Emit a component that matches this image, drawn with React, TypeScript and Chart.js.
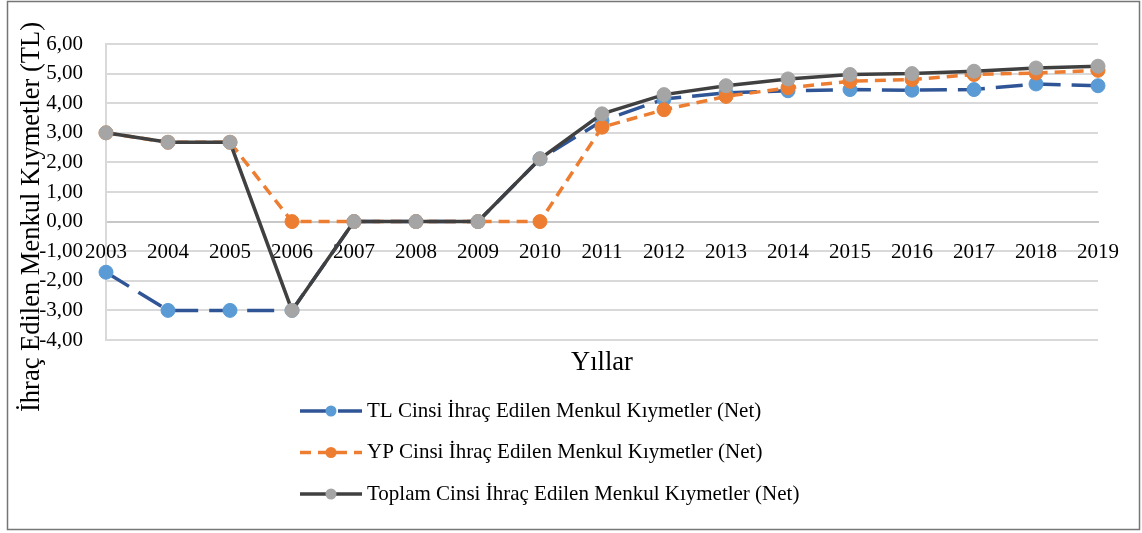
import React, { useEffect, useRef } from 'react';
import { Chart, registerables } from 'chart.js';

Chart.register(...registerables);

const years = ['2003', '2004', '2005', '2006', '2007', '2008', '2009', '2010', '2011', '2012', '2013', '2014', '2015', '2016', '2017', '2018', '2019'];
const tlValues = [-1.71, -3.0, -3.0, -3.0, 0, 0, 0, 2.12, 3.4, 4.14, 4.35, 4.42, 4.46, 4.44, 4.46, 4.65, 4.59];
const ypValues = [3.0, 2.68, 2.68, 0, 0, 0, 0, 0, 3.19, 3.78, 4.23, 4.52, 4.74, 4.8, 4.97, 5.02, 5.11];
const totalValues = [3.0, 2.68, 2.68, -3.0, 0, 0, 0, 2.12, 3.64, 4.29, 4.59, 4.82, 4.97, 5.0, 5.08, 5.19, 5.25];

const seriesLabels = [
  'TL Cinsi İhraç Edilen Menkul Kıymetler (Net)',
  'YP Cinsi İhraç Edilen Menkul Kıymetler (Net)',
  'Toplam Cinsi İhraç Edilen Menkul Kıymetler (Net)',
];
const yAxisTitle = 'İhraç Edilen Menkul Kıymetler (TL)';
const xAxisTitle = 'Yıllar';

const FONT = '"Liberation Serif", "Times New Roman", serif';

const decorPlugin = {
  id: 'decor',
  afterDraw(chart: any) {
    const ctx = chart.ctx as CanvasRenderingContext2D;
    const area = chart.chartArea;
    ctx.save();
    // outer border
    ctx.strokeStyle = '#767676';
    ctx.lineWidth = 1.5;
    ctx.strokeRect(7.5, 1.5, 1132, 528);

    // y axis title
    ctx.fillStyle = '#000';
    ctx.font = `26.5px ${FONT}`;
    ctx.save();
    ctx.translate(39, 217);
    ctx.rotate(-Math.PI / 2);
    ctx.textAlign = 'center';
    ctx.textBaseline = 'alphabetic';
    ctx.fillText(yAxisTitle, 0, 0);
    ctx.restore();

    // x axis title
    ctx.textAlign = 'center';
    ctx.textBaseline = 'alphabetic';
    ctx.fillText(xAxisTitle, (area.left + area.right) / 2, 370);

    // legend
    const x0 = 300, x1 = 362, cx = 331, tx = 367;
    const rowY = [411, 452.5, 494];
    ctx.font = `21px ${FONT}`;
    ctx.textAlign = 'left';
    ctx.textBaseline = 'middle';
    chart.data.datasets.forEach((ds: any, i: number) => {
      const y = rowY[i];
      ctx.save();
      ctx.strokeStyle = ds.borderColor;
      ctx.lineWidth = ds.borderWidth;
      ctx.setLineDash(ds.borderDash || []);
      ctx.beginPath();
      ctx.moveTo(x0, y);
      ctx.lineTo(x1, y);
      ctx.stroke();
      ctx.setLineDash([]);
      ctx.fillStyle = ds.pointBackgroundColor;
      ctx.beginPath();
      ctx.arc(cx, y, 5.5, 0, Math.PI * 2);
      ctx.fill();
      ctx.restore();
      ctx.fillStyle = '#000';
      ctx.fillText(ds.label, tx, y);
    });
    ctx.restore();
  },
};

export default function App() {
  const ref = useRef<HTMLCanvasElement | null>(null);
  useEffect(() => {
    document.body.style.margin = '0';
    if (!ref.current) return;
    const chart = new Chart(ref.current, {
      type: 'line',
      data: {
        labels: years,
        datasets: [
          {
            label: seriesLabels[0],
            data: tlValues,
            borderColor: '#2F5597',
            borderWidth: 3.5,
            borderDash: [27, 11],
            pointBackgroundColor: '#5B9BD5',
            pointBorderColor: '#5B9BD5',
            pointBorderWidth: 1,
            pointRadius: 7,
            tension: 0,
            order: 3,
          },
          {
            label: seriesLabels[1],
            data: ypValues,
            borderColor: '#ED7D31',
            borderWidth: 3.5,
            borderDash: [11, 7],
            pointBackgroundColor: '#ED7D31',
            pointBorderColor: '#ED7D31',
            pointBorderWidth: 1,
            pointRadius: 7,
            tension: 0,
            order: 2,
          },
          {
            label: seriesLabels[2],
            data: totalValues,
            borderColor: '#404040',
            borderWidth: 3.5,
            pointBackgroundColor: '#A5A5A5',
            pointBorderColor: '#A5A5A5',
            pointBorderWidth: 1,
            pointRadius: 7,
            tension: 0,
            order: 1,
          },
        ],
      },
      options: {
        responsive: false,
        animation: false,
        layout: { padding: { top: 44, right: 44, bottom: 193, left: 0 } },
        plugins: {
          legend: { display: false },
          tooltip: { enabled: false },
        },
        scales: {
          x: {
            type: 'category',
            position: { y: 0 } as any,
            offset: false,
            grid: { display: false, drawTicks: false },
            border: { display: true, color: '#c8c8c8', width: 2 },
            ticks: {
              color: '#000',
              font: { family: FONT, size: 21 },
              padding: 18,
              maxRotation: 0,
              autoSkip: false,
            },
          },
          y: {
            min: -4,
            max: 6,
            afterFit: (scale: any) => {
              scale.width = 106;
            },
            grid: { color: '#d9d9d9', lineWidth: 2, drawTicks: false },
            border: { display: true, color: '#d9d9d9', width: 2 },
            ticks: {
              stepSize: 1,
              color: '#000',
              font: { family: FONT, size: 21 },
              padding: 23,
              callback: (v: any) => Number(v).toFixed(2).replace('.', ','),
            },
          },
        },
      },
      plugins: [decorPlugin],
    });
    return () => chart.destroy();
  }, []);
  return <canvas ref={ref} width={1142} height={533} style={{ display: 'block' }} />;
}
